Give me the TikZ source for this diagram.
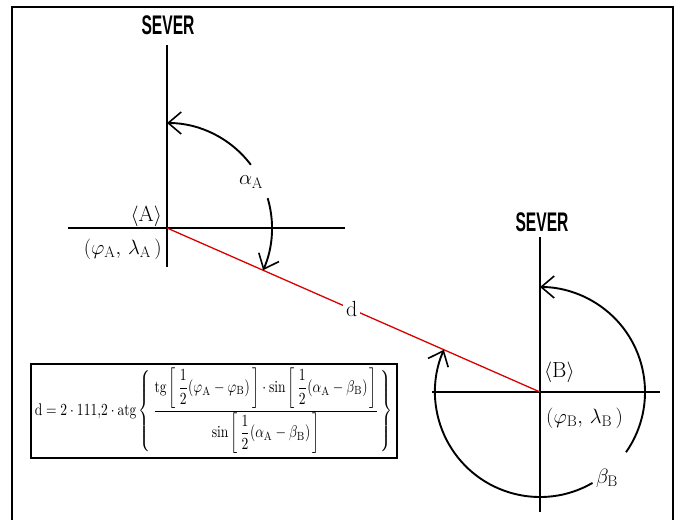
\documentclass[tikz,border=0pt]{standalone}
\usepackage{amsmath}
\usepackage{fontspec}
\newfontfamily\severfont{Liberation Sans}[FakeStretch=0.58]
\usetikzlibrary{arrows.meta}
\tikzset{
  axis/.style={line width=1.3bp, black},
  anglearc/.style={line width=1.9bp, black},
  barb/.style={-{Straight Barb[length=13bp,width=22bp,line width=1.6bp]}},
  redline/.style={line width=1.3bp, red!85!black},
  lbl/.style={font=\fontsize{22}{24}\selectfont, inner sep=1bp, text=black},
  sever/.style={font=\severfont\bfseries\fontsize{27}{28}\selectfont, inner sep=0pt},
  frameline/.style={line width=1.6bp, black},
}
\begin{document}
\begin{tikzpicture}[x=1bp,y=1bp]
\useasboundingbox (0,0) rectangle (684,-520);
% frame
\coordinate (f1) at (12,-520);
\coordinate (f2) at (12,-7);
\coordinate (f3) at (673,-7);
\coordinate (f4) at (673,-520);
\draw[frameline] (f1) -- (f2) -- (f3) -- (f4);

% point A
\coordinate (A) at (167,-228);
\coordinate (An) at (167,-45);
\coordinate (As) at (167,-267);
\coordinate (Aw) at (68,-228);
\coordinate (Ae) at (345,-228);
\draw[axis] (An) -- (As);
\draw[axis] (Aw) -- (Ae);
\node[sever] (sevA) at (168,-25) {SEVER};

% point B
\coordinate (B) at (540,-392);
\coordinate (Bn) at (540,-237);
\coordinate (Bs) at (540,-512);
\coordinate (Bw) at (432,-392);
\coordinate (Be) at (660,-392);
\draw[axis] (Bn) -- (Bs);
\draw[axis] (Bw) -- (Be);
\node[sever] (sevB) at (542,-222) {SEVER};

% distance line
\draw[redline] (A) -- node[lbl, fill=white, inner sep=3bp, pos=0.495] (dl) {$\mathrm{d}$} (B);

% labels
\node[lbl, anchor=east] (labA) at (163,-216) {$\langle\mathrm{A}\rangle$};
\node[lbl, anchor=east] (coA) at (163,-249) {$(\varphi_{\mathrm{A}},\,\lambda_{\mathrm{A}}\,)$};
\node[lbl, anchor=west] (labB) at (543,-372) {$\langle\mathrm{B}\rangle$};
\node[lbl, anchor=west] (coB) at (545,-418) {$(\varphi_{\mathrm{B}},\,\lambda_{\mathrm{B}}\,)$};

% alpha arcs
\draw[anglearc, barb] ([shift={(37:105)}]A) arc[start angle=37, end angle=90, radius=105];
\draw[anglearc, barb] ([shift={(16.5:105)}]A) arc[start angle=16.5, end angle=-23.7, radius=105];
\node[lbl] (alA) at (251,-182) {$\alpha_{\mathrm{A}}$};

% beta arcs
\draw[anglearc, barb] ([shift={(-35:105)}]B) arc[start angle=-35, end angle=90, radius=105];
\draw[anglearc, barb] ([shift={(-60:105)}]B) arc[start angle=-60, end angle=-203.7, radius=105];
\node[lbl] (beB) at (607,-478) {$\beta_{\mathrm{B}}$};

% formula box
\node[draw, line width=1.8bp, minimum width=366bp, minimum height=94bp, inner sep=0pt, anchor=north west] (box) at (30,-363) {};
\node[inner sep=0pt] (formula) at (box.center) {\resizebox*{358bp}{86bp}{$\mathrm{d}=2\cdot 111{,}2\cdot \mathrm{atg}\left\{\,\dfrac{\mathrm{tg}\left[\,\dfrac12(\varphi_{\mathrm{A}}-\varphi_{\mathrm{B}})\,\right]\cdot\sin\left[\,\dfrac12(\alpha_{\mathrm{A}}-\beta_{\mathrm{B}})\,\right]}{\sin\left[\,\dfrac12(\alpha_{\mathrm{A}}-\beta_{\mathrm{B}})\,\right]}\,\right\}$}};
\end{tikzpicture}
\end{document}
